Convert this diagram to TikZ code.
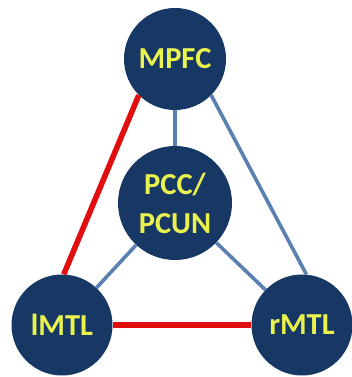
\documentclass[tikz,border=0pt]{standalone}
\usepackage{fontspec}
\setmainfont{Carlito}
\definecolor{Navy}{HTML}{173764}
\definecolor{Label}{HTML}{EAF24E}
\definecolor{Link}{HTML}{5A80B0}
\definecolor{Strong}{HTML}{E00E0E}

\begin{document}
\begin{tikzpicture}[x=1pt,y=1pt,
  region/.style={circle,fill=Navy,inner sep=0pt,minimum size=#1,
    text=Label,font=\bfseries\fontsize{30.5}{39}\selectfont,align=center},
  weak/.style={Link,line width=3.6pt},
  strong/.style={Strong,line width=5.6pt}]
  \useasboundingbox (0,0) rectangle (351,377);

  \node[region=102pt] (mpfc) at (175,318) {MPFC};
  \node[region=114pt] (pcc) at (175,174) {PCC/\\PCUN};
  \node[region=101pt] (lmtl) at (62,52) {lMTL};
  \node[region=101pt] (rmtl) at (302,52) {rMTL};

  \draw[weak] (mpfc) -- (pcc);
  \draw[weak] (mpfc.-45) -- (rmtl.85);
  \draw[weak] (pcc) -- (lmtl);
  \draw[weak] (pcc) -- (rmtl);
  \draw[strong] (mpfc.-135) -- (lmtl.88);
  \draw[strong] (lmtl) -- (rmtl);
\end{tikzpicture}
\end{document}
